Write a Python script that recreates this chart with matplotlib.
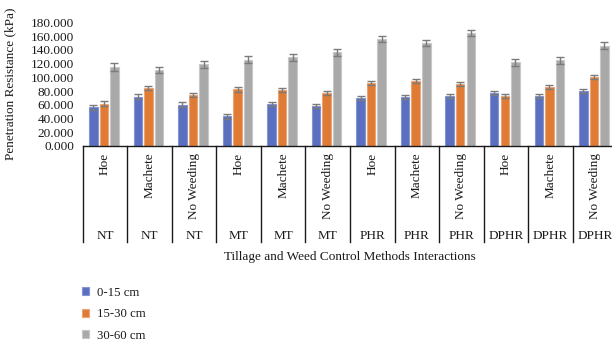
import matplotlib.pyplot as plt
import numpy as np
from matplotlib.lines import Line2D
from matplotlib.patches import Patch

plt.rcParams['font.family'] = ['Liberation Serif', 'DejaVu Serif']

tillage = ['NT', 'NT', 'NT', 'MT', 'MT', 'MT', 'PHR', 'PHR', 'PHR', 'DPHR', 'DPHR', 'DPHR']
weeding = ['Hoe', 'Machete', 'No Weeding'] * 4

depth_0_15 = [56.5, 72.0, 60.4, 43.0, 60.9, 58.0, 69.6, 71.0, 72.5, 77.8, 73.0, 80.3]
depth_15_30 = [61.9, 85.0, 74.5, 82.6, 81.7, 77.8, 91.3, 94.8, 90.4, 73.0, 86.5, 101.0]
depth_30_60 = [115.5, 110.7, 119.4, 125.6, 129.0, 136.8, 155.6, 149.8, 164.8, 122.3, 125.2, 145.9]

err_0_15 = [3.4, 3.4, 3.2, 3.5, 3.3, 3.0, 3.2, 3.0, 3.2, 3.0, 3.2, 3.0]
err_15_30 = [3.1, 3.1, 3.0, 3.3, 3.2, 3.0, 3.0, 3.2, 3.0, 3.0, 3.0, 3.0]
err_30_60 = [5.5, 4.6, 5.0, 5.0, 5.0, 5.0, 4.5, 4.5, 4.8, 5.0, 5.0, 5.0]

series = [
    ('0-15 cm', depth_0_15, err_0_15, '#5a6fbf', '#8595d3'),
    ('15-30 cm', depth_15_30, err_15_30, '#e07b36', '#eca574'),
    ('30-60 cm', depth_30_60, err_30_60, '#a9a9a9', '#c8c8c8'),
]

fig = plt.figure(figsize=(6.12, 3.45), dpi=100)
ax = fig.add_axes([82.7 / 612, 1 - 146 / 345, 534.6 / 612, 123.5 / 345])

x = np.arange(len(weeding))
width = 0.19
step = 0.237
for i, (name, vals, errs, color, edge) in enumerate(series):
    ax.bar(x + (i - 1) * step - 0.025, vals, width, color=color, edgecolor=edge,
           linewidth=0.8, label=name, zorder=2)
    ax.errorbar(x + (i - 1) * step - 0.025, vals, yerr=errs, fmt='none',
                ecolor='#7b7b7b', elinewidth=1.0, capsize=2.8, capthick=1.0, zorder=3)

ax.set_xlim(-0.5, len(weeding) - 0.5)
ax.set_ylim(0, 180)
ax.set_yticks(np.arange(0, 181, 20))
ax.set_yticklabels(['%.3f' % v for v in np.arange(0, 181, 20)], fontsize=9.5, color='#1a1a1a')
ax.tick_params(axis='y', length=0, pad=6)
ax.set_xticks([])
for side in ['top', 'right', 'left']:
    ax.spines[side].set_visible(False)
ax.spines['bottom'].set_color('#1a1a1a')
ax.spines['bottom'].set_linewidth(1.0)

# two-level category axis: weeding method on top, tillage system below
trans = ax.get_xaxis_transform()
for k in range(len(weeding) + 1):
    ax.add_line(Line2D([k - 0.5, k - 0.5], [0, -0.775], transform=trans,
                       color='#1a1a1a', linewidth=1.0, clip_on=False))
for k in range(len(weeding)):
    ax.text(k, -0.055, weeding[k], transform=trans, rotation=90, ha='center', va='top',
            fontsize=9.5, color='#1a1a1a')
    ax.text(k, -0.73, tillage[k], transform=trans, ha='center', va='center',
            fontsize=9.5, color='#1a1a1a')

ax.set_ylabel('Penetration Resistance (kPa)', fontsize=9.5, color='#1a1a1a')
ax.yaxis.set_label_coords(-0.124, 0.5)
fig.text(350 / 612, 1 - 257 / 345, 'Tillage and Weed Control Methods Interactions',
         ha='center', va='center', fontsize=9.5, color='#1a1a1a')

handles = [Patch(facecolor=s[3], edgecolor=s[4], linewidth=0.8) for s in series]
fig.legend(handles, [s[0] for s in series], loc='upper left',
           bbox_to_anchor=(70 / 612, 1 - 275 / 345), frameon=False, fontsize=9.2,
           handlelength=0.6, handleheight=0.6, handletextpad=0.6, labelspacing=0.75,
           labelcolor='#1a1a1a')

fig.savefig('out.png', dpi=100)
